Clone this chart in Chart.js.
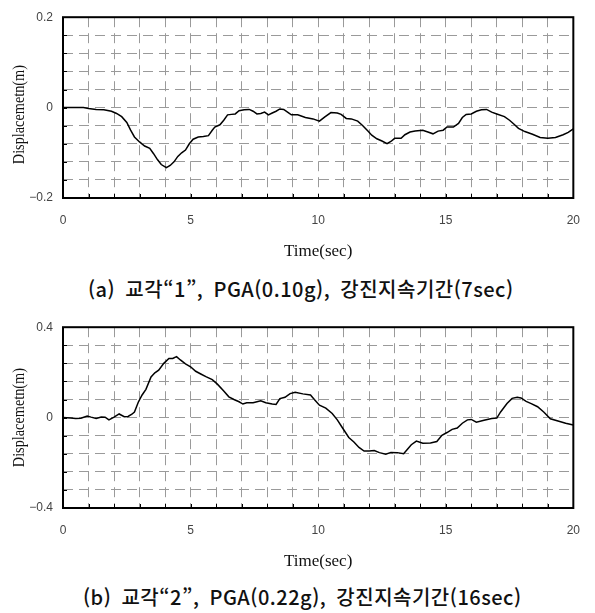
<!DOCTYPE html>
<html lang="ko">
<head>
    <meta charset="UTF-8">
    <title>Displacement time histories</title>
    <style>
        body {
            margin: 0;
            padding: 0;
            background-color: #ffffff;
            width: 595px;
            height: 613px;
            position: relative;
            overflow: hidden;
        }
        .panel {
            position: absolute;
            left: 0;
            width: 595px;
            height: 262px;
        }
        .caption {
            position: absolute;
            font-family: "Noto Sans CJK KR", sans-serif;
            font-size: 20px;
            font-weight: 500;
            color: #111;
            white-space: nowrap;
            word-spacing: 4px;
            letter-spacing: 0.5px;
            line-height: 24px;
        }
    </style>
    <script src="https://cdn.jsdelivr.net/npm/chart.js"></script>
</head>
<body>
    <div class="panel" style="top: 0px;"><canvas id="chart-a" width="595" height="262"></canvas></div>
    <div class="caption" id="caption-a" style="left: 88px; top: 277px;"></div>
    <div class="panel" style="top: 310px;"><canvas id="chart-b" width="595" height="262"></canvas></div>
    <div class="caption" id="caption-b" style="left: 83px; top: 585px;"></div>

    <script>
        // time axis (sec)
        const xMin = 0;
        const xMax = 20;
        const xLabels = [0, 5, 10, 15, 20];

        // (a) pier 1, PGA 0.10g
        const timeA = [0, 0.5, 0.8, 1.0, 1.3, 1.6, 1.9, 2.1, 2.3, 2.5, 2.65, 2.8, 3.0, 3.2, 3.4, 3.55, 3.7, 3.85,
            4.05, 4.2, 4.35, 4.5, 4.65, 4.8, 4.95, 5.1, 5.3, 5.5, 5.7, 5.85, 5.95, 6.15, 6.3, 6.45, 6.6, 6.75,
            6.9, 7.1, 7.3, 7.45, 7.6, 7.75, 7.9, 8.05, 8.2, 8.35, 8.5, 8.65, 8.8, 8.95, 9.2, 9.5, 9.8, 10.05,
            10.25, 10.5, 10.75, 10.9, 11.1, 11.3, 11.55, 11.75, 11.95, 12.1, 12.3, 12.5, 12.7, 12.85, 13.0,
            13.25, 13.4, 13.6, 13.8, 14.1, 14.3, 14.5, 14.7, 14.9, 15.05, 15.3, 15.5, 15.65, 15.8, 16.0, 16.2,
            16.4, 16.6, 16.8, 17.0, 17.3, 17.5, 17.7, 17.85, 18.1, 18.4, 18.7, 19.0, 19.3, 19.6, 19.8, 20];
        const dispA = [0, 0, 0, -0.002, -0.004, -0.005, -0.008, -0.013, -0.02, -0.033, -0.05, -0.065, -0.076,
            -0.085, -0.09, -0.102, -0.115, -0.126, -0.133, -0.128, -0.12, -0.108, -0.1, -0.094, -0.08, -0.07,
            -0.065, -0.064, -0.062, -0.05, -0.043, -0.038, -0.028, -0.016, -0.015, -0.014, -0.007, -0.005,
            -0.004, -0.008, -0.014, -0.013, -0.01, -0.016, -0.012, -0.008, -0.003, -0.004, -0.01, -0.016,
            -0.016, -0.022, -0.025, -0.03, -0.021, -0.011, -0.012, -0.015, -0.024, -0.025, -0.03, -0.04,
            -0.052, -0.061, -0.069, -0.074, -0.08, -0.075, -0.068, -0.068, -0.06, -0.054, -0.052, -0.05,
            -0.054, -0.058, -0.052, -0.05, -0.043, -0.043, -0.035, -0.022, -0.015, -0.014, -0.008, -0.005,
            -0.004, -0.01, -0.014, -0.02, -0.028, -0.038, -0.046, -0.053, -0.059, -0.066, -0.068, -0.066,
            -0.06, -0.055, -0.047];
        const yRangeA = 0.2;
        const yStepA = 0.04;
        const yLabelsA = [-0.2, 0, 0.2];
        const captionA = '(a) 교각“1”, PGA(0.10g), 강진지속기간(7sec)';

        // (b) pier 2, PGA 0.22g
        const timeB = [0, 0.3, 0.5, 0.7, 0.95, 1.1, 1.3, 1.5, 1.65, 1.8, 2.0, 2.2, 2.4, 2.55, 2.7, 2.8, 2.95,
            3.1, 3.25, 3.45, 3.6, 3.75, 3.95, 4.15, 4.3, 4.45, 4.6, 4.8, 5.0, 5.2, 5.4, 5.6, 5.85, 6.05, 6.3,
            6.5, 6.7, 6.9, 7.05, 7.2, 7.45, 7.75, 7.95, 8.2, 8.35, 8.5, 8.7, 8.9, 9.1, 9.4, 9.7, 9.85, 10.05,
            10.3, 10.55, 10.75, 10.95, 11.2, 11.4, 11.6, 11.8, 12.0, 12.2, 12.4, 12.65, 12.85, 13.1, 13.35,
            13.5, 13.65, 13.85, 14.1, 14.4, 14.65, 14.85, 15.05, 15.25, 15.45, 15.65, 15.85, 16.0, 16.2, 16.5,
            16.8, 17.0, 17.15, 17.4, 17.6, 17.8, 17.95, 18.15, 18.35, 18.6, 18.85, 19.1, 19.4, 19.7, 20];
        const dispB = [0, -0.002, -0.004, -0.003, 0.007, 0.002, -0.004, 0.003, 0.002, -0.01, 0.002, 0.016,
            0.004, 0.005, 0.015, 0.025, 0.068, 0.1, 0.125, 0.18, 0.198, 0.21, 0.24, 0.262, 0.262, 0.27, 0.255,
            0.238, 0.225, 0.205, 0.193, 0.181, 0.168, 0.148, 0.118, 0.092, 0.08, 0.07, 0.06, 0.066, 0.066,
            0.074, 0.066, 0.06, 0.058, 0.084, 0.09, 0.106, 0.112, 0.105, 0.1, 0.08, 0.055, 0.042, 0.018,
            -0.01, -0.045, -0.088, -0.108, -0.132, -0.148, -0.148, -0.146, -0.155, -0.162, -0.154, -0.155,
            -0.16, -0.14, -0.12, -0.104, -0.113, -0.112, -0.106, -0.078, -0.066, -0.052, -0.046, -0.025,
            -0.01, -0.008, -0.02, -0.012, -0.004, -0.002, 0.025, 0.062, 0.085, 0.09, 0.087, 0.072, 0.062,
            0.048, 0.024, -0.005, -0.015, -0.025, -0.033];
        const yRangeB = 0.4;
        const yStepB = 0.08;
        const yLabelsB = [-0.4, 0, 0.4];
        const captionB = '(b) 교각“2”, PGA(0.22g), 강진지속기간(16sec)';

        const xTitle = 'Time(sec)';
        const yTitle = 'Displacemetn(m)';

        function fmtLabel(v) {
            if (v === 0) return '0';
            return (v < 0 ? '\u2212' : '') + Math.abs(v).toString();
        }

        // box frame, inward tick marks and the rotated (condensed) y caption
        const plotFrame = {
            id: 'plotFrame',
            afterDraw(chart, args, opts) {
                const {ctx, chartArea: a} = chart;
                const x = chart.scales.x;
                const y = chart.scales.y;
                ctx.save();
                ctx.strokeStyle = '#000';
                ctx.lineWidth = 1;
                ctx.beginPath();
                x.ticks.forEach((t, i) => {
                    const px = Math.round(x.getPixelForTick(i)) + 0.5;
                    ctx.moveTo(px, a.bottom);
                    ctx.lineTo(px, a.bottom - 4);
                });
                y.ticks.forEach((t, i) => {
                    const py = Math.round(y.getPixelForTick(i)) + 0.5;
                    ctx.moveTo(a.left, py);
                    ctx.lineTo(a.left + 4, py);
                });
                ctx.stroke();
                ctx.lineWidth = 2;
                ctx.strokeRect(a.left, a.top, a.right - a.left, a.bottom - a.top);

                ctx.translate(opts.labelX, (a.top + a.bottom) / 2 + opts.labelShift);
                ctx.rotate(-Math.PI / 2);
                ctx.scale(0.84, 1);
                ctx.font = '17px "Liberation Serif", "Times New Roman", serif';
                ctx.fillStyle = '#111';
                ctx.textAlign = 'center';
                ctx.textBaseline = 'middle';
                ctx.fillText(yTitle, 0, 0);
                ctx.restore();
            }
        };

        function makeChart(id, times, disp, yRange, yStep, yLabels, labelShift) {
            const points = times.map((t, i) => ({x: t, y: disp[i]}));
            const gridColor = '#9a9a9a';
            const tickFont = {family: '"Liberation Sans", Arial, sans-serif', size: 12};

            return new Chart(document.getElementById(id), {
                type: 'line',
                data: {
                    datasets: [{
                        data: points,
                        borderColor: '#000',
                        borderWidth: 1.5,
                        pointRadius: 0,
                        tension: 0,
                        fill: false
                    }]
                },
                options: {
                    responsive: false,
                    animation: false,
                    layout: {padding: {left: 0, right: 15, top: 12, bottom: 0}},
                    plugins: {
                        legend: {display: false},
                        tooltip: {enabled: false},
                        plotFrame: {labelX: 20, labelShift: labelShift}
                    },
                    scales: {
                        x: {
                            type: 'linear',
                            min: xMin,
                            max: xMax,
                            afterFit: (scale) => { scale.height = 64; },
                            grid: {color: gridColor, lineWidth: 1, drawTicks: false},
                            border: {display: false, dash: [10, 6]},
                            ticks: {
                                stepSize: 1,
                                autoSkip: false,
                                maxRotation: 0,
                                padding: 15,
                                color: '#444',
                                font: tickFont,
                                callback: (v) => xLabels.includes(v) ? String(v) : ''
                            },
                            title: {
                                display: true,
                                text: xTitle,
                                color: '#111',
                                font: {family: '"Liberation Serif", "Times New Roman", serif', size: 17},
                                padding: {top: 0, bottom: 0}
                            }
                        },
                        y: {
                            type: 'linear',
                            min: -yRange,
                            max: yRange,
                            afterFit: (scale) => { scale.width = 63; },
                            grid: {color: gridColor, lineWidth: 1, drawTicks: false},
                            border: {display: false, dash: [10, 6]},
                            ticks: {
                                stepSize: yStep,
                                autoSkip: false,
                                padding: 10,
                                color: '#444',
                                font: tickFont,
                                callback: (v) => {
                                    const hit = yLabels.find(l => Math.abs(l - v) < 1e-9);
                                    return hit === undefined ? '' : fmtLabel(hit);
                                }
                            }
                        }
                    }
                },
                plugins: [plotFrame]
            });
        }

        makeChart('chart-a', timeA, dispA, yRangeA, yStepA, yLabelsA, 7);
        makeChart('chart-b', timeB, dispB, yRangeB, yStepB, yLabelsB, 0);

        document.getElementById('caption-a').textContent = captionA;
        document.getElementById('caption-b').textContent = captionB;
    </script>
</body>
</html>
